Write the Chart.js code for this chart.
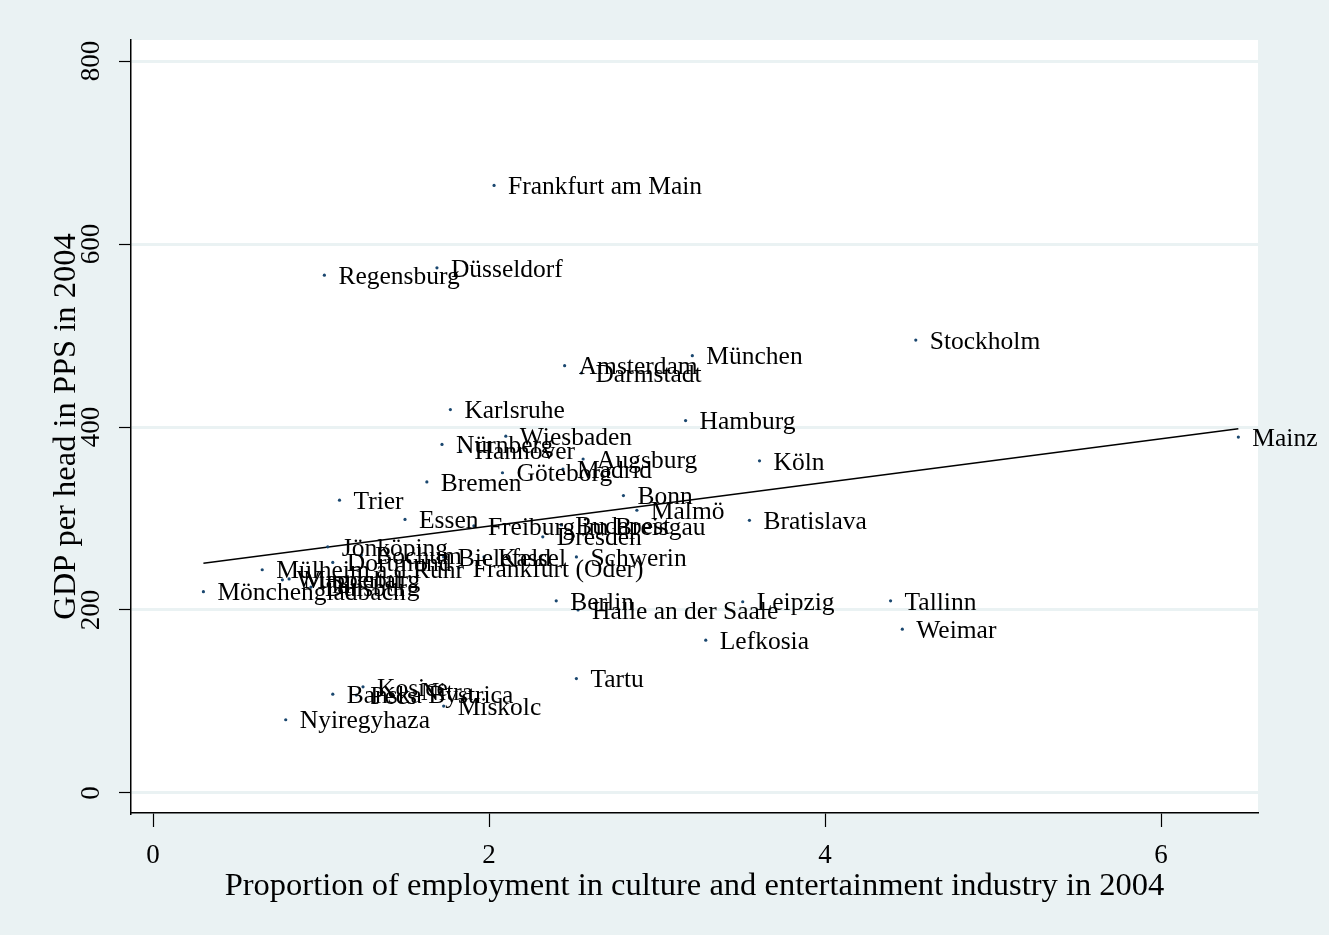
<!DOCTYPE html>
<html>
<head>
<meta charset="utf-8">
<title>GDP per head vs culture employment</title>
<script src="https://cdn.jsdelivr.net/npm/chart.js@4.4.1/dist/chart.umd.min.js"></script>
<style>
  html, body { margin: 0; padding: 0; background: #EAF2F3; }
  #wrap { width: 1329px; height: 935px; }
</style>
</head>
<body>
<div id="wrap"><canvas id="scatter-chart" width="1329" height="935"></canvas></div>
<script>
// City names
const cities = [
  'Frankfurt am Main', 'Regensburg', 'Düsseldorf', 'Stockholm', 'Amsterdam',
  'München', 'Darmstadt', 'Karlsruhe', 'Hamburg', 'Mainz',
  'Nürnberg', 'Hannover', 'Wiesbaden', 'Augsburg', 'Madrid',
  'Göteborg', 'Köln', 'Bremen', 'Bonn', 'Trier',
  'Malmö', 'Essen', 'Bratislava', 'Freiburg im Breisgau', 'Budapest',
  'Dresden', 'Schwerin', 'Jönköping', 'Bochum', 'Dortmund',
  'Bielefeld', 'Kassel', 'Frankfurt (Oder)', 'Mülheim a.d.Ruhr', 'Mönchengladbach',
  'Wuppertal', 'Magdeburg', 'Duisburg', 'Berlin', 'Halle an der Saale',
  'Leipzig', 'Tallinn', 'Weimar', 'Lefkosia', 'Tartu',
  'Kosice', 'Pécs', 'Banska Bystrica', 'Nitra', 'Miskolc',
  'Nyiregyhaza'
];

// Proportion of employment in culture and entertainment (%)
const employmentShare = [
  2.03, 1.02, 1.69, 4.54, 2.45,
  3.21, 2.55, 1.77, 3.17, 6.46,
  1.72, 1.83, 2.10, 2.56, 2.44,
  2.08, 3.61, 1.63, 2.80, 1.11,
  2.88, 1.50, 3.55, 1.91, 2.43,
  2.32, 2.52, 1.04, 1.24, 1.07,
  1.73, 1.97, 1.82, 0.65, 0.30,
  0.77, 0.81, 0.94, 2.40, 2.53,
  3.51, 4.39, 4.46, 3.29, 2.52,
  1.25, 1.21, 1.07, 1.51, 1.73,
  0.79
];

// GDP per head in PPS
const gdpPerHead = [
  664, 566, 574, 495, 467,
  478, 459, 419, 407, 389,
  381, 374, 390, 365, 354,
  350, 363, 340, 325, 320,
  309, 299, 298, 292, 293,
  280, 258, 269, 260, 252,
  258, 258, 246, 244, 220,
  233, 234, 225, 210, 200,
  209, 210, 179, 167, 125,
  116, 107, 108, 111, 95,
  80
];

// Fitted line end points (at min and max x)
const fitX = [0.30, 6.46];
const fitY = [251, 398];

// Tick values
const xTicks = [0, 2, 4, 6];
const yTicks = [0, 200, 400, 600, 800];

const xTitle = 'Proportion of employment in culture and entertainment industry in 2004';
const yTitle = 'GDP per head in PPS in 2004';

const SERIF = '"Liberation Serif", "DejaVu Serif", "Times New Roman", serif';
const BG = '#EAF2F3';
const NAVY = '#1A476F';

// Background: outer graph region plus white plot region
const backgroundPlugin = {
  id: 'stataBackground',
  beforeDraw(chart) {
    const { ctx, chartArea } = chart;
    ctx.save();
    ctx.fillStyle = BG;
    ctx.fillRect(0, 0, chart.width, chart.height);
    ctx.fillStyle = '#fff';
    ctx.fillRect(chartArea.left, chartArea.top,
      chartArea.right - chartArea.left, chartArea.bottom - chartArea.top);
    ctx.restore();
  },
};

// Marker labels to the right of each point
const markerLabelPlugin = {
  id: 'markerLabels',
  afterDatasetsDraw(chart) {
    const { ctx } = chart;
    const meta = chart.getDatasetMeta(0);
    ctx.save();
    ctx.font = '25.5px ' + SERIF;
    ctx.fillStyle = '#000';
    ctx.textAlign = 'left';
    ctx.textBaseline = 'middle';
    meta.data.forEach((pt, i) => {
      ctx.fillText(cities[i], pt.x + 14, pt.y + 2);
    });
    ctx.restore();
  },
};

// Tick labels and axis titles, placed like the Stata layout
const axisTextPlugin = {
  id: 'axisText',
  afterDraw(chart) {
    const { ctx, chartArea } = chart;
    const xs = chart.scales.x;
    const ys = chart.scales.y;
    ctx.save();
    ctx.fillStyle = '#000';

    // x tick labels
    ctx.font = '27px ' + SERIF;
    ctx.textAlign = 'center';
    ctx.textBaseline = 'middle';
    xTicks.forEach(v => {
      ctx.fillText(String(v), xs.getPixelForValue(v), 856);
    });

    // y tick labels, rotated
    yTicks.forEach(v => {
      ctx.save();
      ctx.translate(92, ys.getPixelForValue(v));
      ctx.rotate(-Math.PI / 2);
      ctx.fillText(String(v), 0, 0);
      ctx.restore();
    });

    // titles
    ctx.font = '32.5px ' + SERIF;
    ctx.fillText(xTitle, (chartArea.left + chartArea.right) / 2, 886);
    ctx.save();
    ctx.translate(66, (chartArea.top + chartArea.bottom) / 2);
    ctx.rotate(-Math.PI / 2);
    ctx.fillText(yTitle, 0, 0);
    ctx.restore();

    ctx.restore();
  },
};

const points = employmentShare.map((x, i) => ({ x: x, y: gdpPerHead[i] }));
const fitLine = fitX.map((x, i) => ({ x: x, y: fitY[i] }));

const config = {
  type: 'scatter',
  data: {
    datasets: [
      {
        label: 'GDP per head',
        data: points,
        pointRadius: 1.6,
        pointBackgroundColor: NAVY,
        pointBorderWidth: 0,
      },
      {
        label: 'Fitted values',
        type: 'line',
        data: fitLine,
        borderColor: '#000',
        borderWidth: 1.5,
        pointRadius: 0,
        fill: false,
        tension: 0,
      },
    ],
  },
  options: {
    responsive: false,
    animation: false,
    layout: {
      padding: { left: 0, top: 40, right: 71, bottom: 0 },
    },
    plugins: {
      legend: { display: false },
      tooltip: { enabled: false },
    },
    scales: {
      x: {
        type: 'linear',
        min: -0.131,
        max: 6.577,
        afterFit(scale) { scale.height = 122; },
        ticks: { display: false, stepSize: 2, includeBounds: false },
        grid: {
          drawOnChartArea: false,
          drawTicks: true,
          tickLength: 14,
          tickColor: '#000',
          tickWidth: 1.2,
        },
        border: { display: true, color: '#000', width: 1.5 },
      },
      y: {
        type: 'linear',
        min: -21.9,
        max: 823,
        afterFit(scale) { scale.width = 131; },
        ticks: { display: false, stepSize: 200, includeBounds: false },
        grid: {
          color: BG,
          lineWidth: 3,
          drawTicks: true,
          tickLength: 12,
          tickColor: '#000',
          tickWidth: 1.2,
        },
        border: { display: true, color: '#000', width: 1.5 },
      },
    },
  },
  plugins: [backgroundPlugin, markerLabelPlugin, axisTextPlugin],
};

new Chart(document.getElementById('scatter-chart'), config);
</script>
</body>
</html>
